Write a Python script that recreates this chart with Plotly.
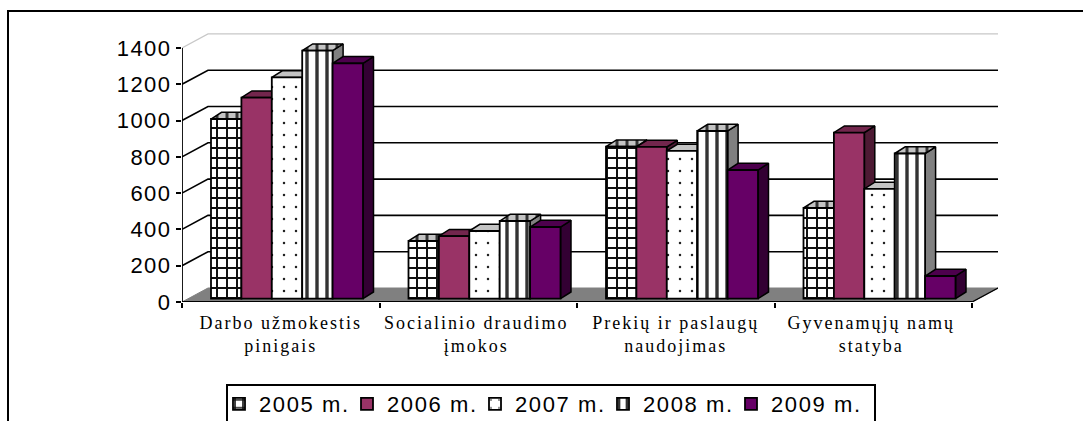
import plotly.graph_objects as go

categories = ["Darbo užmokestis<br>pinigais", "Socialinio draudimo<br>įmokos",
              "Prekių ir paslaugų<br>naudojimas", "Gyvenamųjų namų<br>statyba"]
series_names = ["2005 m.", "2006 m.", "2007 m.", "2008 m.", "2009 m."]
v2005 = [990, 318, 838, 500]
v2006 = [1108, 345, 836, 915]
v2007 = [1219, 373, 814, 605]
v2008 = [1367, 428, 924, 800]
v2009 = [1297, 395, 709, 125]
y_ticks = [0, 200, 400, 600, 800, 1000, 1200, 1400]
series = [v2005, v2006, v2007, v2008, v2009]

# page geometry (pixels)
W, H = 1083, 421
L, R, T, B = 182, 998, 33, 302
PX_X = 197.5          # px per category
PX_Y = 36.3 / 200     # px per value unit
XMAX = (R - L) / PX_X
YMAX = (B - T) / PX_Y
WALL_DX, WALL_DY = 26 / PX_X, 14 / PX_Y
BAR_W = 30.4 / PX_X
BAR_START = 29 / PX_X
BAR_BASE = 3.3 / PX_Y
DEPTH_X, DEPTH_Y = 10.5 / PX_X, 6.7 / PX_Y

GRID = dict(shape="+", size=10, solidity=0.36, fgcolor="#111111", bgcolor="white", fillmode="replace")
DOTS = dict(shape=".", size=12, solidity=0.035, fgcolor="#222222", bgcolor="white", fillmode="replace")
BARS = dict(shape="|", size=10, solidity=0.34, fgcolor="#333333", bgcolor="white", fillmode="replace")
GRID_TOP = dict(shape="|", size=10, solidity=0.3, fgcolor="#333333", bgcolor="#c4c4c4", fillmode="replace")

styles = [
    dict(color="white", top="#c4c4c4", side="#808080", pattern=GRID, top_pattern=GRID_TOP),
    dict(color="#993366", top="#73264d", side="#4d1a33", pattern=None, top_pattern=None),
    dict(color="white", top="#c4c4c4", side="#808080", pattern=DOTS, top_pattern=None),
    dict(color="white", top="#c4c4c4", side="#808080", pattern=BARS, top_pattern=GRID_TOP),
    dict(color="#660066", top="#4d004d", side="#330033", pattern=None, top_pattern=None),
]

fig = go.Figure()


def poly(xs, ys, fill, line="black", width=1.5, pattern=None):
    kw = dict(fillpattern=pattern) if pattern else {}
    fig.add_trace(go.Scatter(x=xs, y=ys, mode="lines", fill="toself", fillcolor=fill,
                             line=dict(color=line, width=width), showlegend=False,
                             hoverinfo="skip", **kw))


def seg(xs, ys, color="black", width=1.6):
    fig.add_trace(go.Scatter(x=xs, y=ys, mode="lines", line=dict(color=color, width=width),
                             showlegend=False, hoverinfo="skip"))


n = len(categories)
# floor
poly([0, n, n + WALL_DX, WALL_DX, 0], [0, 0, WALL_DY, WALL_DY, 0], "#808080", line="#808080", width=1)
# wall lines
for t in y_ticks[1:]:
    c = "#c8c8c8" if t == y_ticks[-1] else "black"
    w = 1.2 if t == y_ticks[-1] else 1.6
    seg([0, WALL_DX, n + WALL_DX], [t, t + WALL_DY, t + WALL_DY], c, w)
# axis lines
seg([0, 0], [0, y_ticks[-1]], "black", 1.8)
seg([0, n], [0, 0], "black", 1.8)
seg([n, n + WALL_DX], [0, WALL_DY], "black", 1.4)

# side and top faces, from the values
for k, vals in enumerate(series):
    st = styles[k]
    for i, v in enumerate(vals):
        x0 = i + BAR_START + k * BAR_W
        x1 = x0 + BAR_W
        top = BAR_BASE + v
        poly([x1, x1 + DEPTH_X, x1 + DEPTH_X, x1, x1],
             [BAR_BASE, BAR_BASE + DEPTH_Y, top + DEPTH_Y, top, BAR_BASE], st["side"])
        poly([x0, x1, x1 + DEPTH_X, x0 + DEPTH_X, x0],
             [top, top, top + DEPTH_Y, top + DEPTH_Y, top], st["top"], pattern=st["top_pattern"])

# front faces, on an overlaid subplot so they sit above the other faces
for k, vals in enumerate(series):
    st = styles[k]
    marker = dict(color=st["color"], line=dict(color="black", width=1.8))
    if st["pattern"]:
        marker["pattern"] = st["pattern"]
    fig.add_trace(go.Bar(
        x=[i + BAR_START + (k + 0.5) * BAR_W for i in range(n)],
        y=vals, base=BAR_BASE, width=BAR_W, name=series_names[k], marker=marker,
        xaxis="x2", yaxis="y2", hovertemplate="%{y}<extra>" + series_names[k] + "</extra>"))


def px(x):
    return (x - L) / (R - L)


def py(y):
    return (B - y) / (B - T)


frame = f"M {px(8)},{py(H + 5)} L {px(8)},{py(11)} L {px(W + 5)},{py(11)}"
legbox = f"M {px(227)},{py(H + 5)} L {px(227)},{py(385)} L {px(875)},{py(385)} L {px(875)},{py(H + 5)}"

fig.update_layout(
    width=W, height=H, autosize=False,
    margin=dict(l=L, r=W - R, t=T, b=H - B, pad=0, autoexpand=False),
    paper_bgcolor="white", plot_bgcolor="white",
    barmode="overlay", showlegend=True,
    font=dict(family="Liberation Sans", color="black"),
    xaxis=dict(range=[0, XMAX], showgrid=False, zeroline=False, showline=False,
               tickvals=[0.5, 1.49, 2.5, 3.49], ticktext=categories, ticks="",
               tickfont=dict(family="Liberation Serif", size=18), ticklabelstandoff=8,
               minor=dict(tickvals=list(range(n + 1)), ticks="outside", ticklen=5, tickwidth=1.6,
                          tickcolor="black", showgrid=False)),
    yaxis=dict(range=[0, YMAX], showgrid=False, zeroline=False, showline=False,
               tickvals=y_ticks, ticks="outside", ticklen=5, tickwidth=1.6, tickcolor="black",
               tickfont=dict(size=22)),
    xaxis2=dict(range=[0, XMAX], overlaying="x", visible=False),
    yaxis2=dict(range=[0, YMAX], overlaying="y", visible=False),
    legend=dict(orientation="h", x=px(219), xanchor="left", y=py(383), yanchor="top",
                font=dict(size=22), bgcolor="rgba(0,0,0,0)", borderwidth=0, itemwidth=30,
                traceorder="normal", entrywidth=83, entrywidthmode="pixels"),
    shapes=[
        dict(type="path", path=frame, xref="paper", yref="paper", line=dict(color="black", width=2)),
        dict(type="path", path=legbox, xref="paper", yref="paper", line=dict(color="black", width=2)),
    ],
)

# the reference's text is horizontally stretched: widen it with letter spacing
post = """
document.body.style.margin='0';document.body.style.overflow='hidden';
document.querySelectorAll('.xtick text').forEach(function(t){t.style.letterSpacing='2px';});
document.querySelectorAll('.ytick text').forEach(function(t){t.style.letterSpacing='1.5px';});
document.querySelectorAll('.legendtext').forEach(function(t){t.style.letterSpacing='1.6px';});
"""
fig.write_html("out.html", config=dict(displayModeBar=False), post_script=post)
